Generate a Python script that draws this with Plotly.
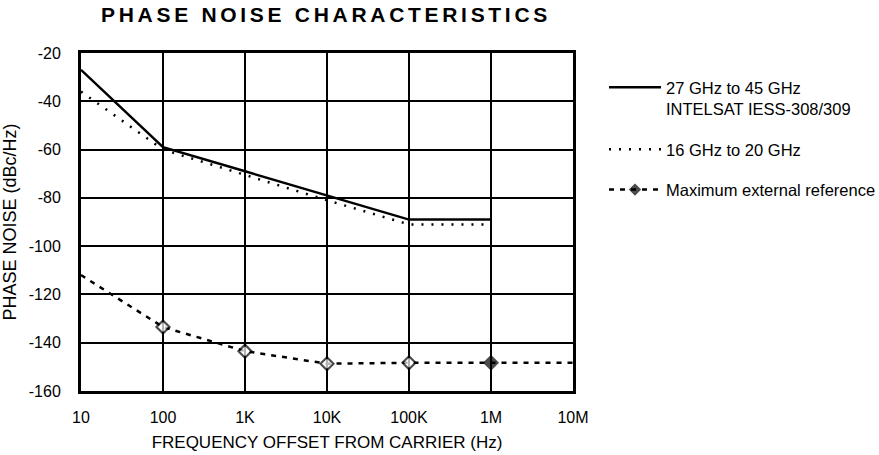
import plotly.graph_objects as go

# ---- data ----
freq_ticks = [10, 100, 1e3, 1e4, 1e5, 1e6, 1e7]
freq_tick_labels = ["10", "100", "1K", "10K", "100K", "1M", "10M"]
pn_ticks = [-20, -40, -60, -80, -100, -120, -140, -160]
pn_tick_labels = ["-20", "-40", "-60", "-80", "-100", "-120", "-140", "-160"]

freq_ka = [10, 100, 1e3, 1e4, 1e5, 1e6]
pn_ka = [-27, -59, -69, -79, -89, -89]

freq_ku = [10, 100, 1e3, 1e4, 1e5, 1e6]
pn_ku = [-36, -60, -70.5, -81, -91, -91]

freq_ref = [10, 100, 1e3, 1e4, 1e5, 1e6, 1e7]
pn_ref = [-112, -133.5, -143.5, -148.7, -148.3, -148.3, -148.3]

FONT = "Liberation Sans, Arial, Helvetica, sans-serif"

fig = go.Figure()
fig.add_trace(go.Scatter(
    x=freq_ka, y=pn_ka, mode="lines",
    name="27 GHz to 45 GHz<br>INTELSAT IESS-308/309",
    line=dict(color="black", width=2.5), legendgroup="a"))
fig.add_trace(go.Scatter(
    x=freq_ku, y=pn_ku, mode="lines",
    name="16 GHz to 20 GHz",
    line=dict(color="black", width=2.5, dash="2px,8px"), legendgroup="b"))
fig.add_trace(go.Scatter(
    x=freq_ref, y=pn_ref, mode="lines+markers",
    name="Maximum external reference",
    line=dict(color="black", width=2.5, dash="5px,6px"),
    marker=dict(symbol="diamond",
                size=[0, 10, 10, 10, 10, 10, 0],
                color=["black", "white", "white", "white", "white", "black", "black"],
                line=dict(color="black", width=2.2)),
    legendgroup="c"))

# figure is a little wider than the 879px window so the legend never squeezes the plot;
# the overflow is hidden by the page
W, H = 920, 455
L, R, T, B = 81, 920 - 573, 53, 64
PW = W - L - R
PH = H - T - B
fig.update_layout(
    width=W, height=H,
    margin=dict(l=L, r=R, t=T, b=B),
    paper_bgcolor="white", plot_bgcolor="white",
    font=dict(family=FONT, color="black", size=16),
    title=dict(text="<b>PHASE NOISE CHARACTERISTICS</b>",
               x=326 / W, xanchor="center", y=1 - 14.5 / H, yanchor="middle",
               font=dict(family=FONT, size=21, color="black")),
    legend=dict(x=(604 - L) / PW, y=1 - (70 - T) / PH, xanchor="left", yanchor="top",
                font=dict(family=FONT, size=16.5, color="black"),
                tracegroupgap=16, itemwidth=52, valign="top",
                bgcolor="rgba(0,0,0,0)"),
    showlegend=True,
)
fig.update_xaxes(
    type="log", range=[1, 7],
    tickvals=freq_ticks, ticktext=freq_tick_labels,
    showgrid=True, gridcolor="black", gridwidth=1.5,
    showline=True, linecolor="black", linewidth=3, mirror=True,
    ticks="", tickfont=dict(size=16), ticklabelstandoff=10,
    title=dict(text="FREQUENCY OFFSET FROM CARRIER (Hz)", font=dict(size=17), standoff=11),
    zeroline=False, automargin=False)
fig.update_yaxes(
    range=[-160, -20], tickvals=pn_ticks, ticktext=pn_tick_labels,
    showgrid=True, gridcolor="black", gridwidth=1.5,
    showline=True, linecolor="black", linewidth=3, mirror=True,
    ticks="", tickfont=dict(size=16), ticklabelstandoff=14,
    title=dict(text="PHASE NOISE (dBc/Hz)", font=dict(size=18), standoff=10),
    zeroline=False, automargin=False)

post = ("document.body.style.margin='0';"
        "document.body.style.overflow='hidden';"
        "document.documentElement.style.overflow='hidden';"
        "document.querySelectorAll('.gtitle').forEach(function(e){"
        "e.style.letterSpacing='3.7px';});")
fig.write_html("out.html", post_script=post, config={"displayModeBar": False})
